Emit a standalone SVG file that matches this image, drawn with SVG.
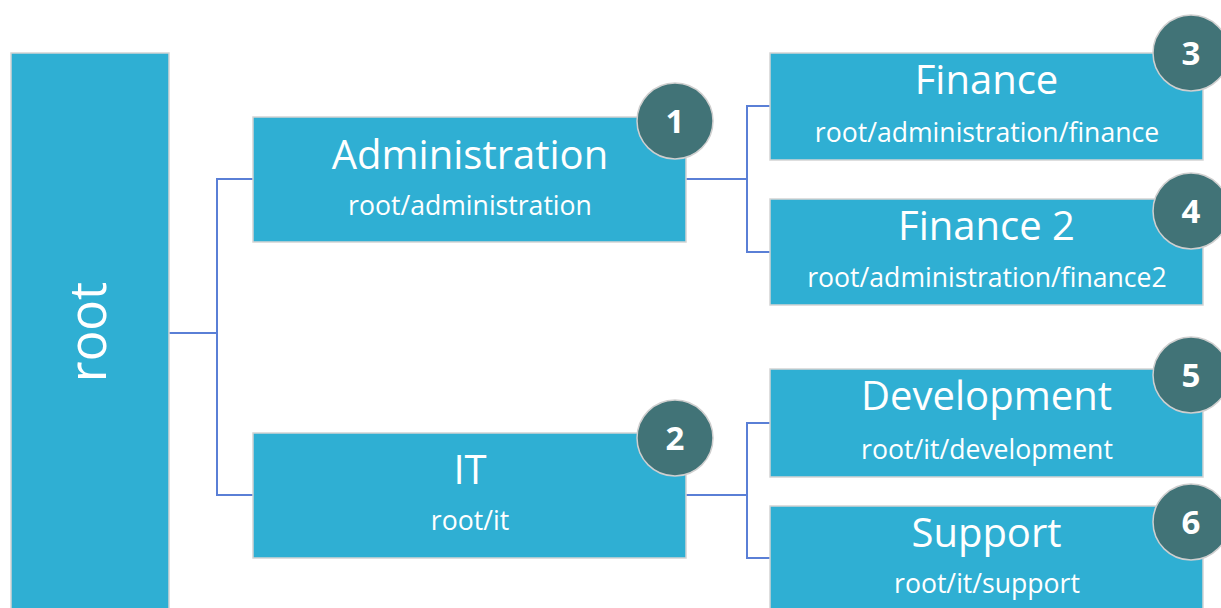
<svg xmlns="http://www.w3.org/2000/svg" width="1221" height="608" viewBox="0 0 1221 608">
<style>
.box{fill:#2fafd3;stroke:#d4d4d4;stroke-width:1.5}
.t{font-family:"Open Sans","Noto Sans",sans-serif;fill:#ffffff;text-anchor:middle;font-size:40px}
.s{font-family:"Open Sans","Noto Sans",sans-serif;fill:#ffffff;text-anchor:middle;font-size:26.6px}
.badge{fill:#417377;stroke:#cfcfcf;stroke-width:1.5}
.n{font-family:"Open Sans","Noto Sans",sans-serif;fill:#ffffff;text-anchor:middle;font-size:33px;font-weight:bold}
.c{fill:none;stroke:#5a7fd6;stroke-width:2}
</style>
<rect width="1221" height="608" fill="#ffffff"/>
<g id="connectors">
<polyline class="c" points="169,333 217,333"/>
<polyline class="c" points="253,179 217,179 217,495 253,495"/>
<polyline class="c" points="686,179 747,179"/>
<polyline class="c" points="770,106 747,106 747,252 770,252"/>
<polyline class="c" points="686,495 747,495"/>
<polyline class="c" points="770,423 747,423 747,558 770,558"/>
</g>
<g id="root">
<rect class="box" x="11" y="53" width="158" height="570"/>
<text class="t" style="font-size:51px" transform="translate(106,332) rotate(-90)">root</text>
</g>
<g id="administration">
<rect class="box" x="253" y="117" width="433" height="125"/>
<text class="t" x="470" y="169">Administration</text>
<text class="s" x="470" y="215">root/administration</text>
</g>
<g id="it">
<rect class="box" x="253" y="433" width="433" height="125"/>
<text class="t" x="470" y="484">IT</text>
<text class="s" x="470" y="530">root/it</text>
</g>
<g id="finance">
<rect class="box" x="770" y="53" width="433" height="107"/>
<text class="t" x="986.5" y="94">Finance</text>
<text class="s" x="987" y="142">root/administration/finance</text>
</g>
<g id="finance2">
<rect class="box" x="770" y="199" width="433" height="106"/>
<text class="t" x="986.5" y="240">Finance 2</text>
<text class="s" x="987" y="287">root/administration/finance2</text>
</g>
<g id="development">
<rect class="box" x="770" y="369" width="433" height="108"/>
<text class="t" x="986.5" y="410">Development</text>
<text class="s" x="987" y="459">root/it/development</text>
</g>
<g id="support">
<rect class="box" x="770" y="506" width="433" height="120"/>
<text class="t" x="986.5" y="547">Support</text>
<text class="s" x="987" y="593">root/it/support</text>
</g>
<g id="badge1"><circle class="badge" cx="675" cy="121" r="38"/><text class="n" x="675" y="133">1</text></g>
<g id="badge2"><circle class="badge" cx="675" cy="438" r="38"/><text class="n" x="675" y="450">2</text></g>
<g id="badge3"><circle class="badge" cx="1191" cy="53" r="38"/><text class="n" x="1191" y="65">3</text></g>
<g id="badge4"><circle class="badge" cx="1191" cy="211" r="38"/><text class="n" x="1191" y="223">4</text></g>
<g id="badge5"><circle class="badge" cx="1191" cy="375" r="38"/><text class="n" x="1191" y="387">5</text></g>
<g id="badge6"><circle class="badge" cx="1191" cy="522" r="38"/><text class="n" x="1191" y="534">6</text></g>
</svg>
